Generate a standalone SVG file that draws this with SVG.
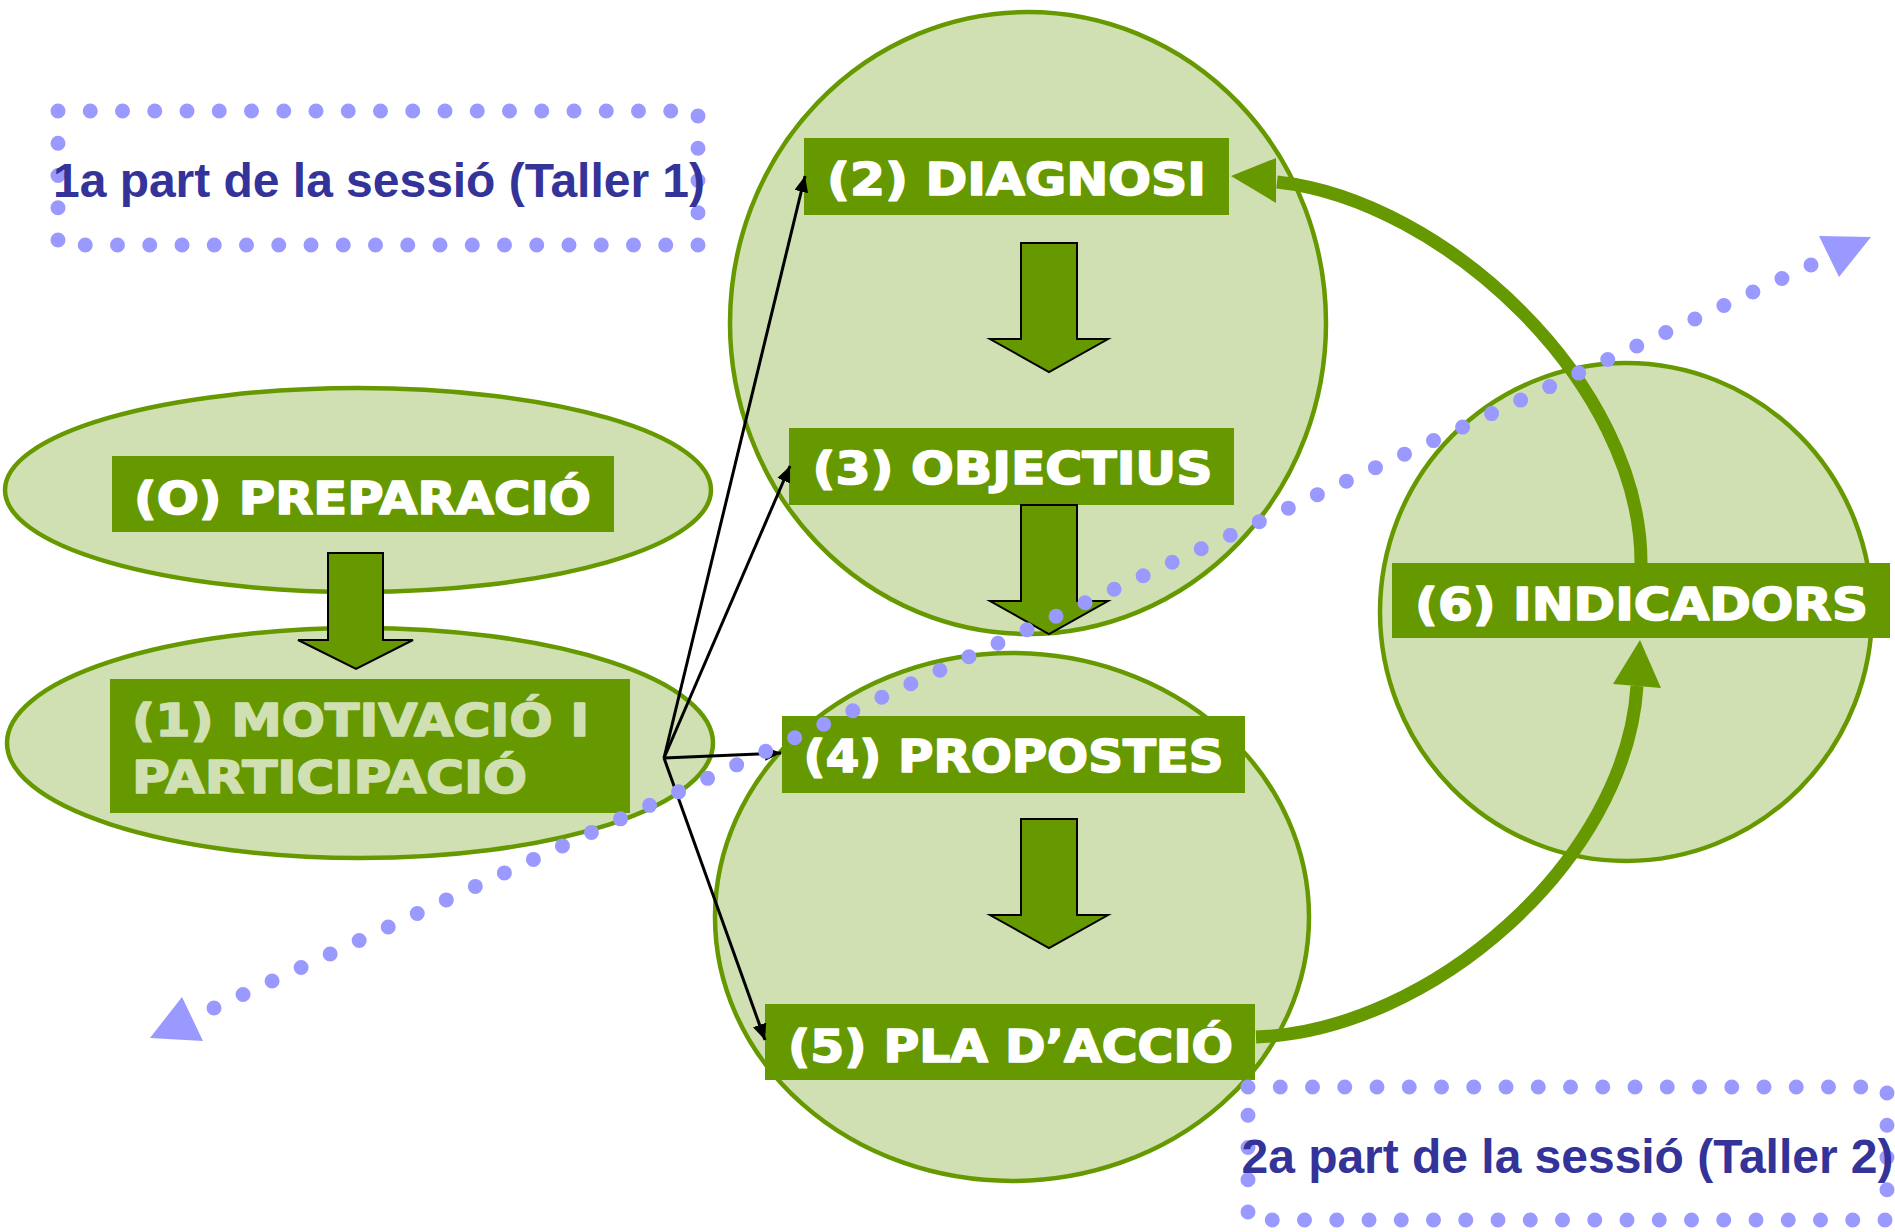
<svg xmlns="http://www.w3.org/2000/svg" width="1895" height="1232" viewBox="0 0 1895 1232">
<style>
.phase{fill:#D1E0B3;stroke:#669900;stroke-width:4.5}
.box{fill:#669900}
.lbl{font-family:"DejaVu Sans",Verdana,sans-serif;font-weight:bold;font-size:44px;fill:#FFFFFF;stroke:#FFFFFF;stroke-width:1.6;stroke-linejoin:round}
.lbl-alt{fill:#D1E0B3;stroke:#D1E0B3}
.block{fill:#669900;stroke:#000000;stroke-width:2}
.flow{fill:none;stroke:#669900;stroke-width:13}
.flowhead{fill:#669900}
.link{fill:none;stroke:#000000;stroke-width:3;marker-end:url(#ah)}
.dots{fill:none;stroke:#9999FF;stroke-width:15;stroke-linecap:round}
.dotbox{fill:none;stroke:#9999FF;stroke-width:15;stroke-linecap:round;stroke-dasharray:0 32.25}
.dothead{fill:#9999FF}
.note{font-family:"Liberation Sans",Arial,sans-serif;font-weight:bold;font-size:48px;fill:#333399}
</style>
<defs>
<marker id="ah" viewBox="0 0 16 14" refX="16" refY="7" markerWidth="16" markerHeight="14" markerUnits="userSpaceOnUse" orient="auto"><path d="M0,0 L16,7 L0,14 Z" fill="#000000"/></marker>
<path id="blk" d="M-28,0H28V96H59L0,129L-59,96H-28Z"/>
</defs>
<rect width="1895" height="1232" fill="#FFFFFF"/>

<g id="node-0-preparacio">
<ellipse class="phase" cx="358" cy="490" rx="353" ry="102"/>
<rect class="box" x="112" y="456" width="502" height="76"/>
<text class="lbl" x="134" y="514" textLength="457" lengthAdjust="spacingAndGlyphs">(O) PREPARACIÓ</text>
</g>

<g id="node-1-motivacio">
<ellipse class="phase" cx="360" cy="743" rx="353" ry="115"/>
<rect class="box" x="110" y="679" width="520" height="134"/>
<text class="lbl lbl-alt" x="132" y="736" textLength="457" lengthAdjust="spacingAndGlyphs">(1) MOTIVACIÓ I</text>
<text class="lbl lbl-alt" x="132" y="793" textLength="395" lengthAdjust="spacingAndGlyphs">PARTICIPACIÓ</text>
</g>

<g id="phase-diagnosi-objectius">
<ellipse class="phase" cx="1028" cy="323" rx="298" ry="311"/>
<g id="node-2-diagnosi">
<rect class="box" x="804" y="138" width="425" height="77"/>
<text class="lbl" x="827" y="195" textLength="379" lengthAdjust="spacingAndGlyphs">(2) DIAGNOSI</text>
</g>
<g id="node-3-objectius">
<rect class="box" x="789" y="428" width="445" height="77"/>
<text class="lbl" x="812.5" y="484" textLength="400" lengthAdjust="spacingAndGlyphs">(3) OBJECTIUS</text>
</g>
</g>

<g id="phase-propostes-pla">
<ellipse class="phase" cx="1012" cy="917" rx="297" ry="264"/>
<g id="node-4-propostes">
<rect class="box" x="782" y="716" width="463" height="77"/>
<text class="lbl" x="803.6" y="772" textLength="420" lengthAdjust="spacingAndGlyphs">(4) PROPOSTES</text>
</g>
<g id="node-5-pla-accio">
<rect class="box" x="765" y="1004" width="490" height="76"/>
<text class="lbl" x="788" y="1062" textLength="445" lengthAdjust="spacingAndGlyphs">(5) PLA D’ACCIÓ</text>
</g>
</g>

<g id="node-6-indicadors">
<ellipse class="phase" cx="1626" cy="612" rx="246" ry="249"/>
<rect class="box" x="1392" y="563" width="498" height="75"/>
<text class="lbl" x="1415" y="620" textLength="453" lengthAdjust="spacingAndGlyphs">(6) INDICADORS</text>
</g>

<g id="connectors">
<path class="block" d="M328,553H383V640H413L356,669L298,640H328Z"/>
<use href="#blk" class="block" x="1049" y="243"/>
<use href="#blk" class="block" x="1049" y="505"/>
<use href="#blk" class="block" x="1049" y="819"/>
<path class="flow" d="M1256,1037 C1431,1031 1626,861 1637,686"/>
<polygon class="flowhead" points="1640,640 1613,684 1661,688"/>
<path class="flow" d="M1641,563 C1641,383 1444,200 1277,182"/>
<polygon class="flowhead" points="1231,176 1276,158 1276,203"/>
<line class="link" x1="664" y1="758" x2="805" y2="176"/>
<line class="link" x1="664" y1="758" x2="790" y2="466"/>
<line class="link" x1="664" y1="758" x2="781" y2="753"/>
<line class="link" x1="664" y1="758" x2="765" y2="1040"/>
</g>

<g id="timeline">
<line class="dots" x1="214" y1="1008" x2="1811" y2="265" stroke-dasharray="0 32.025"/>
<polygon class="dothead" points="150,1038 182,997 203,1041"/>
<polygon class="dothead" points="1871,237 1819,236 1839,277"/>
</g>

<g id="note-session-1">
<rect class="dotbox" x="58" y="111" width="640" height="134"/>
<text class="note" x="53" y="197" textLength="652" lengthAdjust="spacing">1a part de la sessió (Taller 1)</text>
</g>

<g id="note-session-2">
<rect class="dotbox" x="1248" y="1087" width="639" height="133"/>
<text class="note" x="1241.5" y="1173" textLength="652" lengthAdjust="spacing">2a part de la sessió (Taller 2)</text>
</g>
</svg>
